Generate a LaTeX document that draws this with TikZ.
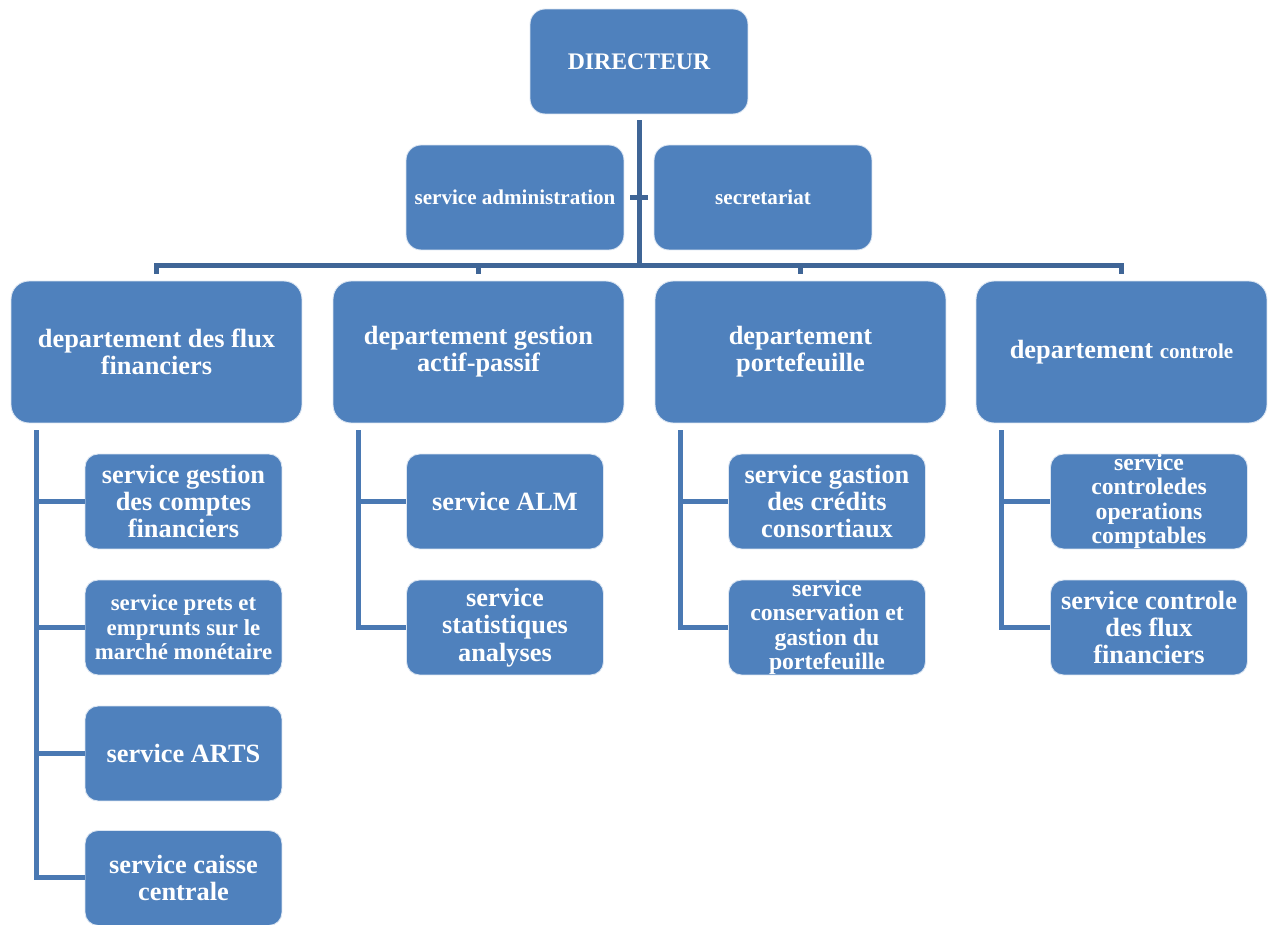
\documentclass[tikz,border=0pt]{standalone}
\usepackage{fontspec}
\setmainfont{Liberation Serif}
\definecolor{boxblue}{HTML}{4F81BD}
\definecolor{topline}{HTML}{3F6596}
\definecolor{subline}{HTML}{4A79B3}
\tikzset{
  box/.style={rectangle,fill=boxblue,draw=white!80!boxblue,line width=0.5pt,text=white,
    align=center,inner sep=0pt,font=\bfseries\fontsize{15}{15.5}\selectfont},
  head/.style={box,minimum width=4.36cm,minimum height=2.1cm,rounded corners=0.3cm},
  dept/.style={box,minimum width=5.82cm,minimum height=2.84cm,rounded corners=0.36cm},
  unit/.style={box,minimum width=3.94cm,minimum height=1.9cm,rounded corners=0.26cm},
  smalltext/.style={font=\bfseries\fontsize{13.5}{13.9}\selectfont},
  link/.style={draw=topline,line width=0.1cm},
  sublink/.style={draw=subline,line width=0.1cm}
}
\begin{document}
\begin{tikzpicture}[x=0.02cm,y=-0.02cm]
\useasboundingbox (0,0) rectangle (1269,925);

% top level
\node[head,font=\bfseries\fontsize{13.5}{14}\selectfont] (dir) at (639,61.5) {DIRECTEUR};
\node[head,font=\bfseries\fontsize{12}{13}\selectfont] (adm) at (515,197.5) {service administration};
\node[head,font=\bfseries\fontsize{12}{13}\selectfont] (sec) at (763,197.5) {secretariat};

% departments
\node[dept] (dflux) at (156.5,352) {departement des flux\\financiers};
\node[dept] (dactif) at (478.5,352) {departement gestion\\actif-passif};
\node[dept] (dport) at (800.5,352) {departement\\portefeuille};
\node[dept] (dctrl) at (1121.5,352) {departement {\fontsize{12}{13}\selectfont controle}};

% services
\node[unit] (f1) at (183.5,501.5) {service gestion\\des comptes\\financiers};
\node[unit,font=\bfseries\fontsize{13}{13.9}\selectfont] (f2) at (183.5,627.5) {service prets et\\emprunts sur le\\march\'e mon\'etaire};
\node[unit] (f3) at (183.5,753.5) {service ARTS};
\node[unit] (f4) at (183.5,878) {service caisse\\centrale};
\node[unit] (a1) at (505,501.5) {service ALM};
\node[unit] (a2) at (505,627.5) {service\\statistiques\\analyses};
\node[unit] (p1) at (827,501.5) {service gastion\\des cr\'edits\\consortiaux};
\node[unit,smalltext] (p2) at (827,627.5) {service\\conservation et\\gastion du\\portefeuille};
\node[unit,smalltext] (c1) at (1149,501.5) {service\\controledes\\operations\\comptables};
\node[unit] (c2) at (1149,627.5) {service controle\\des flux\\financiers};

% director to the bus
\coordinate (bus) at (639,266);
\draw[link] ([yshift=-0.12cm]dir.south) -- (bus);
\draw[link] ([xshift=0.12cm]adm.east) -- ([xshift=-0.12cm]sec.west);
\draw[link] ([yshift=0.14cm]dflux.north) -- ([yshift=0.3cm]dflux.north)
  -- ([yshift=0.3cm]dctrl.north) -- ([yshift=0.14cm]dctrl.north);
\foreach \d in {dactif,dport}
  \draw[link] ([yshift=0.14cm]\d.north) -- ([yshift=0.3cm]\d.north);

% departments to services
\foreach \d/\first/\last in {dflux/f1/f4,dactif/a1/a2,dport/p1/p2,dctrl/c1/c2}{
  \coordinate (\d-top) at ([shift={(0.52cm,-0.14cm)}]\d.south west);
  \draw[sublink] (\d-top) |- (\last.west);
  \draw[sublink] (\first.west -| \d-top) -- (\first.west);
}
\foreach \s in {f2,f3}
  \draw[sublink] (\s.west -| dflux-top) -- (\s.west);
\end{tikzpicture}
\end{document}
